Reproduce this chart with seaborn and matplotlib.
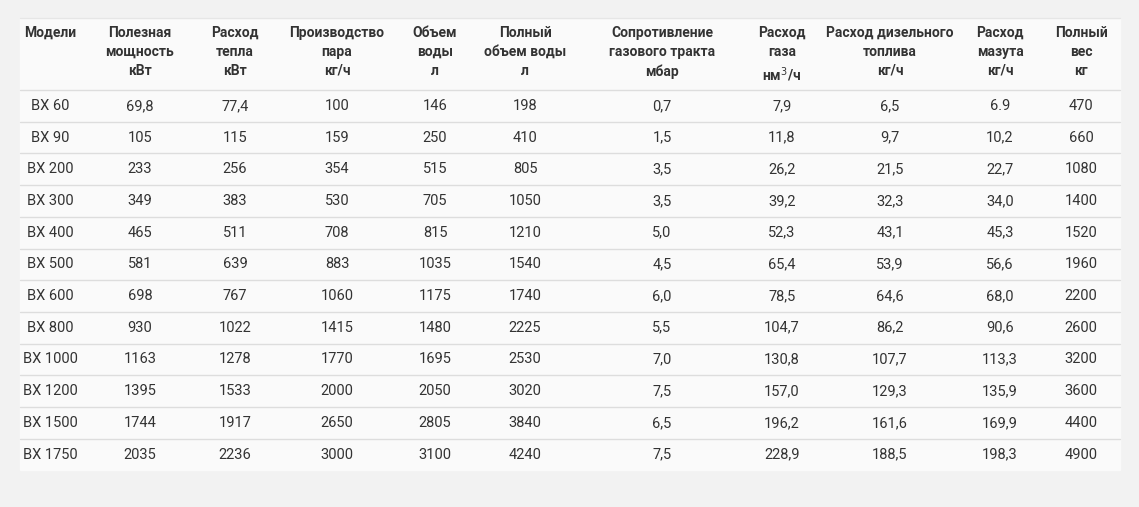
import matplotlib
matplotlib.use("Agg")
import matplotlib.pyplot as plt
import seaborn as sns

sns.set_theme(style="white")
plt.rcParams['font.family'] = ['Roboto', 'DejaVu Sans']

headers = ["Модели", "Полезная\nмощность\nкВт", "Расход\nтепла\nкВт", "Производство\nпара\nкг/ч",
           "Объем\nводы\nл", "Полный\nобъем воды\nл", "Сопротивление\nгазового тракта\nмбар",
           "Расход\nгаза\nнм$^3$/ч", "Расход дизельного\nтоплива\nкг/ч", "Расход\nмазута\nкг/ч",
           "Полный\nвес\nкг"]
models = ["BX 60", "BX 90", "BX 200", "BX 300", "BX 400", "BX 500", "BX 600", "BX 800",
          "BX 1000", "BX 1200", "BX 1500", "BX 1750"]
power = ["69,8", "105", "233", "349", "465", "581", "698", "930", "1163", "1395", "1744", "2035"]
heat = ["77,4", "115", "256", "383", "511", "639", "767", "1022", "1278", "1533", "1917", "2236"]
steam = ["100", "159", "354", "530", "708", "883", "1060", "1415", "1770", "2000", "2650", "3000"]
water = ["146", "250", "515", "705", "815", "1035", "1175", "1480", "1695", "2050", "2805", "3100"]
water_full = ["198", "410", "805", "1050", "1210", "1540", "1740", "2225", "2530", "3020", "3840", "4240"]
resist = ["0,7", "1,5", "3,5", "3,5", "5,0", "4,5", "6,0", "5,5", "7,0", "7,5", "6,5", "7,5"]
gas = ["7,9", "11,8", "26,2", "39,2", "52,3", "65,4", "78,5", "104,7", "130,8", "157,0", "196,2", "228,9"]
diesel = ["6,5", "9,7", "21,5", "32,3", "43,1", "53,9", "64,6", "86,2", "107,7", "129,3", "161,6", "188,5"]
fuel_oil = ["6.9", "10,2", "22,7", "34,0", "45,3", "56,6", "68,0", "90,6", "113,3", "135,9", "169,9", "198,3"]
weight = ["470", "660", "1080", "1400", "1520", "1960", "2200", "2600", "3200", "3600", "4400", "4900"]

columns = [models, power, heat, steam, water, water_full, resist, gas, diesel, fuel_oil, weight]
col_x = [50, 140, 235, 337, 435, 525, 662, 782, 890, 1000, 1081]

W, H = 1139, 507
fig = plt.figure(figsize=(W / 100, H / 100), dpi=100)
fig.patch.set_facecolor("#f2f2f2")
ax = fig.add_axes([0, 0, 1, 1])
ax.set_xlim(0, W)
ax.set_ylim(H, 0)
ax.axis("off")

left, right, top = 20, 1120, 18
header_bottom = 90
row_h = 31.7
bottom = header_bottom + row_h * len(models)
ax.add_patch(plt.Rectangle((left, top), right - left, bottom - top, color="#fafafa", zorder=0))
ax.plot([left, right], [top, top], color="#e6e6e6", lw=1)

for x, h in zip(col_x, headers):
    ax.text(x, 26, h, ha="center", va="top", fontsize=10, fontweight="bold",
            color="#333333", linespacing=1.45)
ax.plot([left, right], [header_bottom, header_bottom], color="#dddddd", lw=1)

for i in range(len(models)):
    yc = header_bottom + row_h * (i + 0.5)
    for x, col in zip(col_x, columns):
        ax.text(x, yc, col[i], ha="center", va="center", fontsize=10.5, color="#333333")
    if i < len(models) - 1:
        yl = header_bottom + row_h * (i + 1)
        ax.plot([left, right], [yl, yl], color="#dddddd", lw=1)

fig.savefig("out.png", dpi=100, facecolor=fig.get_facecolor())
